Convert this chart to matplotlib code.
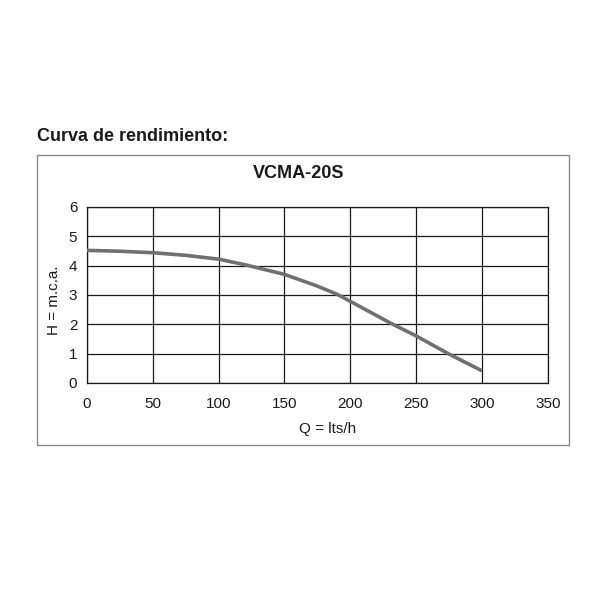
import matplotlib.pyplot as plt
from matplotlib.patches import Rectangle

plt.rcParams['font.family'] = ['Liberation Sans', 'DejaVu Sans']

# curve
caudal = [0, 25, 50, 75, 100, 120, 150, 175, 190, 200, 230, 250, 275, 300]
altura = [4.52, 4.49, 4.44, 4.35, 4.22, 4.03, 3.70, 3.30, 3.02, 2.78, 2.05, 1.60, 0.98, 0.41]

x_ticks = [0, 50, 100, 150, 200, 250, 300, 350]
y_ticks = [0, 1, 2, 3, 4, 5, 6]

fig = plt.figure(figsize=(6, 6), dpi=100)

# outer frame
fig.patches.append(Rectangle((0.062, 0.258), 0.887, 0.483, transform=fig.transFigure,
                             fill=False, edgecolor='#8a8a8a', linewidth=1.0))

fig.text(0.062, 0.773, 'Curva de rendimiento:', fontsize=13, fontweight='bold',
         va='center', ha='left', color='#1a1a1a')
fig.text(0.497, 0.71, 'VCMA-20S', fontsize=13, fontweight='bold',
         va='center', ha='center', color='#1a1a1a')

ax = fig.add_axes([0.145, 0.362, 0.768, 0.293])
ax.plot(caudal, altura, color='#707070', linewidth=2.6, solid_capstyle='butt', zorder=3)

ax.set_xlim(0, 350)
ax.set_ylim(0, 6)
ax.set_xticks(x_ticks)
ax.set_yticks(y_ticks)
ax.grid(True, color='#1a1a1a', linewidth=0.9)
for s in ax.spines.values():
    s.set_color('#1a1a1a')
    s.set_linewidth(0.9)
ax.tick_params(length=0, labelsize=11, colors='#1a1a1a')
ax.tick_params(axis='x', pad=10.5)
ax.tick_params(axis='y', pad=7)

ax.set_xlabel('Q = lts/h', fontsize=11, color='#1a1a1a')
ax.xaxis.set_label_coords(0.523, -0.225)
ax.set_ylabel('H = m.c.a.', fontsize=11, color='#1a1a1a')
ax.yaxis.set_label_coords(-0.056, 0.47)

fig.savefig('out.png', dpi=100)
